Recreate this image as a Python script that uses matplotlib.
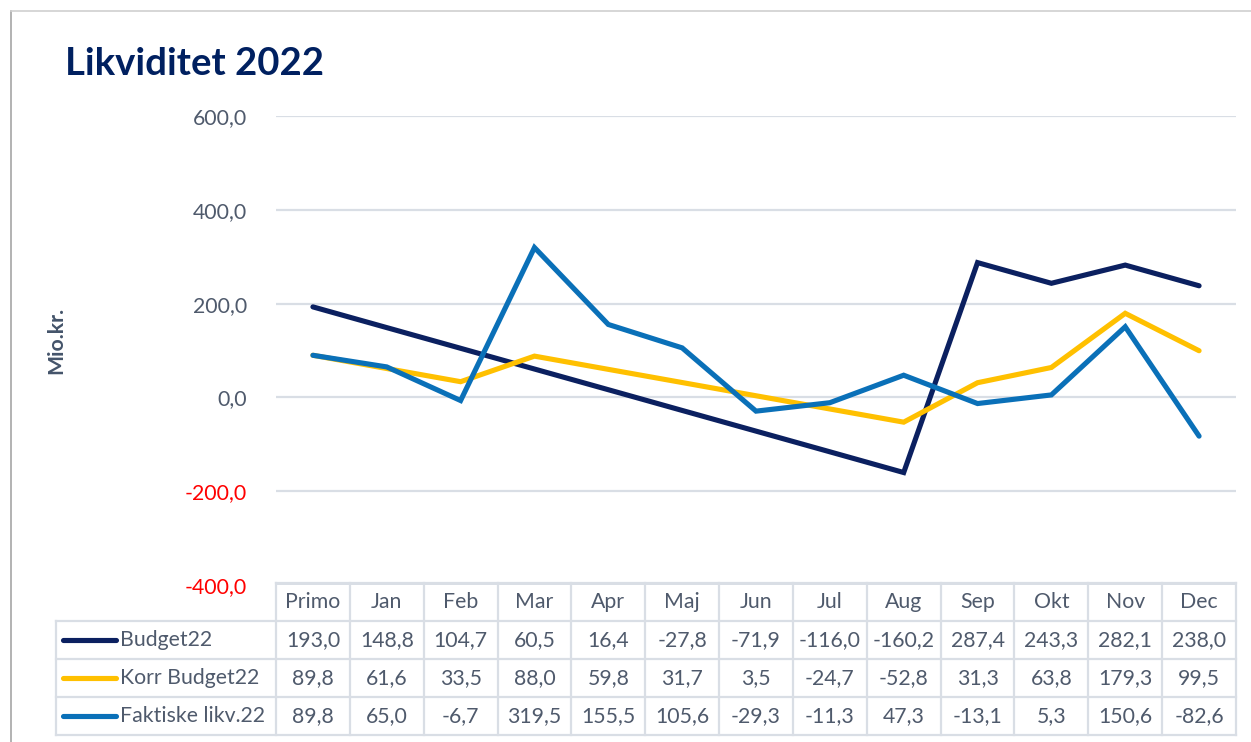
import matplotlib
matplotlib.use("Agg")
import matplotlib.pyplot as plt
from matplotlib.lines import Line2D

plt.rcParams['font.family'] = ['Lato', 'DejaVu Sans']

categories = ["Primo", "Jan", "Feb", "Mar", "Apr", "Maj", "Jun", "Jul", "Aug", "Sep", "Okt", "Nov", "Dec"]
budget22 = [193.0, 148.8, 104.7, 60.5, 16.4, -27.8, -71.9, -116.0, -160.2, 287.4, 243.3, 282.1, 238.0]
korr_budget22 = [89.8, 61.6, 33.5, 88.0, 59.8, 31.7, 3.5, -24.7, -52.8, 31.3, 63.8, 179.3, 99.5]
faktiske22 = [89.8, 65.0, -6.7, 319.5, 155.5, 105.6, -29.3, -11.3, 47.3, -13.1, 5.3, 150.6, -82.6]
series_names = ["Budget22", "Korr Budget22", "Faktiske likv.22"]
series_values = [budget22, korr_budget22, faktiske22]
series_colors = ["#0b2060", "#ffc000", "#0a70b8"]
y_ticks = [-400, -200, 0, 200, 400, 600]

W, H = 1251, 742
fig = plt.figure(figsize=(W / 100, H / 100), dpi=100)
fig.patch.set_facecolor("white")

text_col = "#4f5a6c"
grid_col = "#d9dee5"
fs = 15.3

# main plot area (pixels)
x0, x1 = 276, 1236
y_top, y_bot = 116, 585
ax = fig.add_axes([x0 / W, 1 - y_bot / H, (x1 - x0) / W, (y_bot - y_top) / H])
ax.set_xlim(-0.5, len(categories) - 0.5)
ax.set_ylim(-400, 600)
for s in ax.spines.values():
    s.set_visible(False)
ax.set_xticks([])
ax.set_yticks(y_ticks)
ax.set_yticklabels([f"{v:.1f}".replace(".", ",") for v in y_ticks], fontsize=fs)
for lbl, v in zip(ax.get_yticklabels(), y_ticks):
    lbl.set_color("#ff0000" if v < 0 else text_col)
ax.tick_params(axis='y', length=0, pad=21)
ax.grid(axis='y', color=grid_col, linewidth=1.6)
ax.set_axisbelow(True)
ax.patch.set_alpha(0)

xs = list(range(len(categories)))
for vals, col in zip(series_values, series_colors):
    ax.plot(xs, vals, color=col, linewidth=3.7, solid_joinstyle='miter', solid_capstyle='round', zorder=3)

# overlay in pixel coordinates
ov = fig.add_axes([0, 0, 1, 1])
ov.set_xlim(0, W)
ov.set_ylim(H, 0)
ov.axis('off')
ov.patch.set_alpha(0)

ov.text(56, 340, "Mio.kr.", fontsize=fs, fontweight='bold', color="#44546a",
        rotation=90, ha='center', va='center')

# frame
ov.add_line(Line2D([11, 11], [11, H], color="#a6a6a6", linewidth=1.2))
ov.add_line(Line2D([11, W], [11, 11], color="#d0d0d0", linewidth=1.2))

# title
ov.text(65, 64, "Likviditet 2022", fontsize=27.5, fontweight='bold', color="#002060",
        ha='left', va='center')

# data table
col_w = (x1 - x0) / len(categories)
row_y = [583, 621, 659, 697, 735]
leg_left = 56
lw_tab = 1.6
ov.add_line(Line2D([x0, x1], [row_y[0]] * 2, color=grid_col, linewidth=lw_tab))
for y in row_y[1:]:
    ov.add_line(Line2D([leg_left, x1], [y] * 2, color=grid_col, linewidth=lw_tab))
ov.add_line(Line2D([leg_left, leg_left], [row_y[1], row_y[-1]], color=grid_col, linewidth=lw_tab))
for i in range(len(categories) + 1):
    xx = x0 + i * col_w
    ov.add_line(Line2D([xx, xx], [row_y[0], row_y[-1]], color=grid_col, linewidth=lw_tab))

for i, c in enumerate(categories):
    ov.text(x0 + (i + 0.5) * col_w, (row_y[0] + row_y[1]) / 2, c, fontsize=fs,
            color=text_col, ha='center', va='center')
for r, (name, vals, col) in enumerate(zip(series_names, series_values, series_colors)):
    yc = (row_y[r + 1] + row_y[r + 2]) / 2
    ov.add_line(Line2D([63, 116], [yc, yc], color=col, linewidth=3.7, solid_capstyle='round'))
    ov.text(120, yc, name, fontsize=fs, color=text_col, ha='left', va='center')
    for i, v in enumerate(vals):
        ov.text(x0 + (i + 0.5) * col_w, yc, f"{v:.1f}".replace(".", ","), fontsize=fs,
                color=text_col, ha='center', va='center')

fig.savefig("out.png", dpi=100)
